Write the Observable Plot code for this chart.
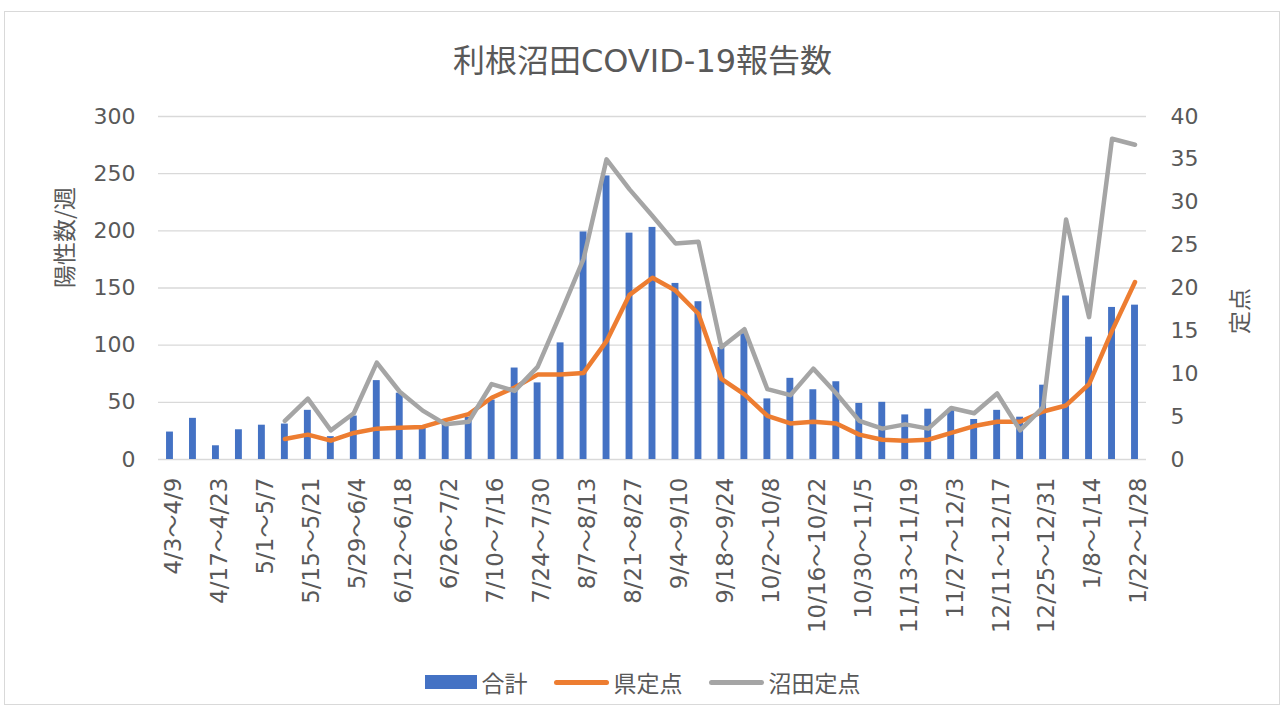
<!DOCTYPE html>
<html>
<head>
<meta charset="utf-8">
<script src="https://cdn.jsdelivr.net/npm/d3@7"></script>
<script src="https://cdn.jsdelivr.net/npm/@observablehq/plot@0.6"></script>
<style>
  html, body { margin: 0; padding: 0; background: #fff; width: 1285px; height: 716px; overflow: hidden; }
  body { font-family: "DejaVu Sans", "Noto Sans CJK JP", sans-serif; color: #595959; }
  #frame { position: absolute; left: 4px; top: 11px; width: 1276px; height: 694px; border: 1px solid #d9d9d9; box-sizing: border-box; }
  #title { position: absolute; left: 0; top: 41px; width: 1285px; text-align: center; font-size: 32px; line-height: 40px; }
  #chart { position: absolute; left: 0; top: 90px; }
  #legend { position: absolute; left: 0; top: 666px; width: 1285px; display: flex; justify-content: center; align-items: center; font-size: 23px; line-height: 32px; font-family: "Noto Sans CJK JP", sans-serif; }
  .item { display: flex; align-items: center; margin: 0 13px; }
  .sw { width: 52px; height: 14px; margin-right: 5px; }
  .ln { width: 55px; height: 5px; border-radius: 3px; margin-right: 5px; }
</style>
</head>
<body>
<div id="frame"></div>
<div id="title">利根沼田COVID-19報告数</div>
<div id="chart"></div>
<div id="legend"></div>
<script>
const categories = [
  "4/3～4/9","4/10～4/16","4/17～4/23","4/24～4/30","5/1～5/7","5/8～5/14",
  "5/15～5/21","5/22～5/28","5/29～6/4","6/5～6/11","6/12～6/18","6/19～6/25",
  "6/26～7/2","7/3～7/9","7/10～7/16","7/17～7/23","7/24～7/30","7/31～8/6",
  "8/7～8/13","8/14～8/20","8/21～8/27","8/28～9/3","9/4～9/10","9/11～9/17",
  "9/18～9/24","9/25～10/1","10/2～10/8","10/9～10/15","10/16～10/22","10/23～10/29",
  "10/30～11/5","11/6～11/12","11/13～11/19","11/20～11/26","11/27～12/3","12/4～12/10",
  "12/11～12/17","12/18～12/24","12/25～12/31","1/1～1/7","1/8～1/14","1/15～1/21",
  "1/22～1/28"
];
// 合計 (left axis: 陽性数/週)
const total = [24,36,12,26,30,31,43,20,38,69,58,28,32,37,52,80,67,102,199,248,198,203,154,138,98,110,53,71,61,68,49,50,39,44,44,35,43,37,65,143,107,133,135];
// 県定点 (right axis: 定点)
const prefSentinel = [null,null,null,null,null,2.4,2.9,2.2,3.1,3.6,3.7,3.8,4.6,5.3,7.2,8.4,9.9,9.9,10.1,13.8,19.2,21.2,19.7,17.0,9.4,7.6,5.1,4.2,4.4,4.2,2.9,2.3,2.2,2.3,3.1,3.9,4.4,4.4,5.6,6.3,8.8,15.0,20.7];
// 沼田定点 (right axis: 定点)
const numataSentinel = [null,null,null,null,null,4.5,7.1,3.4,5.4,11.3,7.9,5.7,4.1,4.4,8.8,8.0,10.8,17.0,23.4,35.0,31.5,28.4,25.2,25.4,13.1,15.2,8.2,7.5,10.6,7.7,4.5,3.6,4.1,3.6,6.0,5.4,7.7,3.4,6.1,28.0,16.6,37.4,36.7];

const leftTicks = [0,50,100,150,200,250,300];
const rightTicks = [0,5,10,15,20,25,30,35,40];
const shownLabels = categories.filter((d, i) => i % 2 === 0);

const leftMax = 300, rightMax = 40;
const k = leftMax / rightMax;

const rows = categories.map((c, i) => ({cat: c, total: total[i], pref: prefSentinel[i], numata: numataSentinel[i]}));
const prefRows = rows.filter(d => d.pref != null);
const numataRows = rows.filter(d => d.numata != null);

const font = '"DejaVu Sans", "Noto Sans CJK JP", sans-serif';
const cjk = '"Noto Sans CJK JP", sans-serif';

const chart = Plot.plot({
  width: 1285,
  height: 560,
  marginLeft: 158,
  marginRight: 139,
  marginTop: 26,
  marginBottom: 191,
  x: {type: "band", domain: categories, paddingInner: 0.7, paddingOuter: 0.35},
  y: {domain: [0, leftMax]},
  style: {fontFamily: font, fontSize: "23px", color: "#595959", background: "transparent", overflow: "visible"},
  marks: [
    Plot.gridY(leftTicks, {stroke: "#d9d9d9", strokeOpacity: 1, strokeWidth: 1.3}),
    Plot.barY(rows, {x: "cat", y: "total", fill: "#4472C4"}),
    Plot.line(prefRows, {x: "cat", y: d => d.pref * k, stroke: "#ED7D31", strokeWidth: 4.5, strokeLinejoin: "round", strokeLinecap: "round"}),
    Plot.line(numataRows, {x: "cat", y: d => d.numata * k, stroke: "#A5A5A5", strokeWidth: 4.5, strokeLinejoin: "round", strokeLinecap: "round"}),
    Plot.axisY(leftTicks, {anchor: "left", tickSize: 0, tickPadding: 23, label: null, fontSize: 22}),
    Plot.axisY(rightTicks.map(v => v * k), {anchor: "right", tickSize: 0, tickPadding: 24, tickFormat: v => String(Math.round(v / k)), label: null, fontSize: 22}),
    Plot.axisX(shownLabels, {anchor: "bottom", tickRotate: -90, tickSize: 0, tickPadding: 18, label: null, fontSize: 23, dx: 4}),
    Plot.text(["陽性数/週"], {text: d => d, frameAnchor: "left", dx: -93, rotate: -90, fontSize: 23, fill: "#595959", fontFamily: cjk}),
    Plot.text(["定点"], {text: d => d, frameAnchor: "right", dx: 94, rotate: -90, fontSize: 23, fill: "#595959", fontFamily: cjk})
  ]
});
document.getElementById("chart").appendChild(chart);

const legendItems = [
  {name: "合計", color: "#4472C4", kind: "sw"},
  {name: "県定点", color: "#ED7D31", kind: "ln"},
  {name: "沼田定点", color: "#A5A5A5", kind: "ln"}
];
const legend = document.getElementById("legend");
for (const it of legendItems) {
  const item = document.createElement("div");
  item.className = "item";
  const s = document.createElement("div");
  s.className = it.kind;
  s.style.background = it.color;
  const t = document.createElement("span");
  t.textContent = it.name;
  item.appendChild(s);
  item.appendChild(t);
  legend.appendChild(item);
}
</script>
</body>
</html>
